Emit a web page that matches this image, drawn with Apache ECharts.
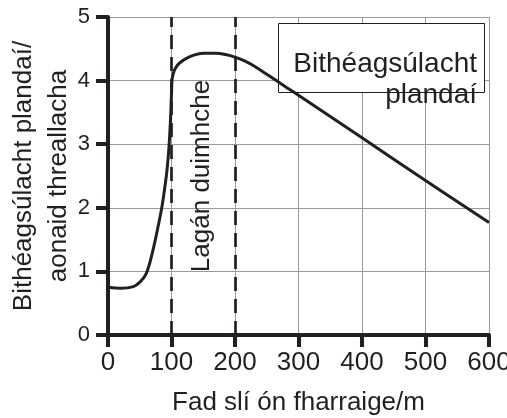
<!DOCTYPE html>
<html>
<head>
<meta charset="utf-8">
<script src="https://cdn.jsdelivr.net/npm/echarts@6/dist/echarts.min.js"></script>
<style>html,body{margin:0;padding:0;background:#fff}#c{width:507px;height:418px}</style>
</head>
<body>
<div id="c"></div>
<script>
const distance = [0, 20, 40, 50, 60, 70, 80, 85, 90, 93, 96, 98.5, 100, 101, 103, 106, 112, 120, 135, 150, 170, 185, 200, 215, 230, 250, 280, 300, 400, 500, 600];
const biodiversity = [0.75, 0.735, 0.76, 0.83, 0.96, 1.3, 1.76, 2.02, 2.36, 2.6, 2.95, 3.4, 3.8, 4.02, 4.12, 4.19, 4.27, 4.33, 4.4, 4.43, 4.43, 4.41, 4.37, 4.31, 4.23, 4.1, 3.9, 3.77, 3.1, 2.43, 1.77];
const xTicks = [0, 100, 200, 300, 400, 500, 600];
const yTicks = [0, 1, 2, 3, 4, 5];
const zoneBounds = [100, 200];
const xName = 'Fad slí ón fharraige/m';
const yName = 'Bithéagsúlacht plandaí/\naonaid threallacha';
const legendLines = ['Bithéagsúlacht', 'plandaí'];
const zoneLabel = 'Lagán duimhche';

const FONT = '"Liberation Sans", Arial, sans-serif';
const INK = '#231f20';
const chart = echarts.init(document.getElementById('c'), null, {renderer: 'canvas'});
const axisCommon = {
  axisLine: {show: true, onZero: false, lineStyle: {color: INK, width: 4}},
  axisTick: {show: true, inside: false, length: 12, lineStyle: {color: INK, width: 4}},
  splitLine: {show: true, lineStyle: {color: '#9a9a9a', width: 1}},
  nameLocation: 'middle',
  nameMoveOverlap: false
};
chart.setOption({
  animation: false,
  grid: {left: 108, right: 18, top: 17, bottom: 83, containLabel: false, outerBoundsMode: 'none'},
  xAxis: Object.assign({}, axisCommon, {
    type: 'value', min: xTicks[0], max: xTicks[xTicks.length - 1], interval: 100,
    name: xName, nameGap: 55,
    nameTextStyle: {fontFamily: FONT, fontSize: 26, color: INK, lineHeight: 26},
    axisLabel: {fontFamily: FONT, fontSize: 26, color: INK, margin: 15}
  }),
  yAxis: Object.assign({}, axisCommon, {
    type: 'value', min: yTicks[0], max: yTicks[yTicks.length - 1], interval: 1,
    name: yName, nameGap: 32,
    nameTextStyle: {fontFamily: FONT, fontSize: 26, color: INK, lineHeight: 35},
    axisLabel: {fontFamily: FONT, fontSize: 22, color: INK, margin: 18}
  }),
  series: [{
    type: 'line',
    data: distance.map((d, i) => [d, biodiversity[i]]),
    smooth: 0.4,
    symbol: 'none',
    lineStyle: {color: INK, width: 3},
    z: 5,
    markLine: {
      silent: true,
      symbol: 'none',
      label: {show: false},
      lineStyle: {color: INK, width: 2.7, type: [14, 8]},
      data: zoneBounds.map(v => ({xAxis: v}))
    }
  }],
  graphic: [
    {type: 'rect', left: 278, top: 23, z: 1,
      shape: {width: 206, height: 69},
      style: {fill: '#fff', stroke: INK, lineWidth: 1}},
    {type: 'text', z: 11, x: 477, y: 50,
      style: {text: legendLines[0], fontFamily: FONT, fontSize: 28, fill: INK, textAlign: 'right', textVerticalAlign: 'alphabetic'}},
    {type: 'text', z: 11, x: 477, y: 81,
      style: {text: legendLines[1], fontFamily: FONT, fontSize: 28, fill: INK, textAlign: 'right', textVerticalAlign: 'alphabetic'}},
    {type: 'text', z: 11, x: 202, y: 176, rotation: Math.PI / 2,
      style: {text: zoneLabel, fontFamily: FONT, fontSize: 26, fill: INK, textAlign: 'center', textVerticalAlign: 'middle'}}
  ]
});
</script>
</body>
</html>
